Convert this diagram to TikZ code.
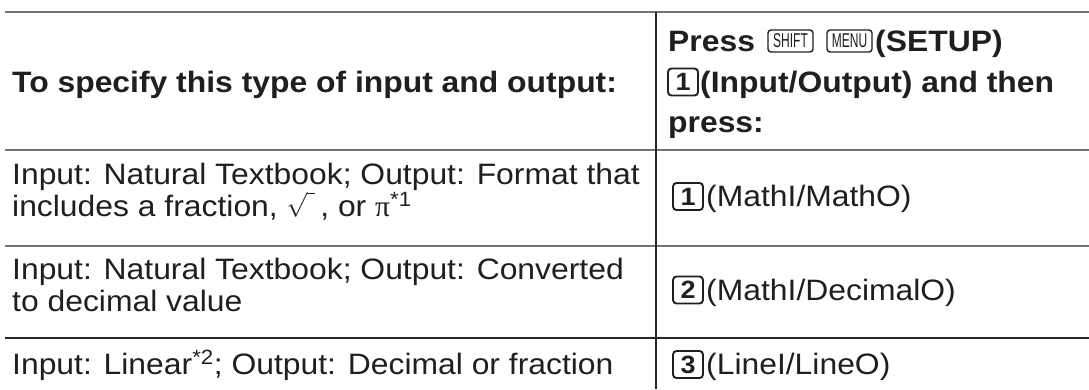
\documentclass[tikz,border=0pt]{standalone}
\usepackage{fontspec}
\setmainfont{Liberation Sans}[FakeStretch=1.08]
\newfontfamily\keyfont[FakeStretch=0.6]{Liberation Sans}
\newfontfamily\greekfont{Liberation Serif}
\usetikzlibrary{positioning}

\begin{document}
\begin{tikzpicture}[x=1pt, y=-1pt,
body/.style={anchor=base west, inner sep=0pt, text=black!88, font=\fontsize{29.5}{34}\selectfont},
head/.style={body, font=\fontsize{29.5}{34}\selectfont\bfseries},
numkey/.style={draw=black!88, rounded corners=3.5pt, line width=1.9pt, minimum width=30pt, minimum height=27pt, inner sep=0pt, text=black!88, font=\fontsize{25}{25}\selectfont\bfseries},
fnkey/.style={draw=black!88, rounded corners=3pt, line width=1.4pt, minimum width=45pt, minimum height=22pt, inner sep=0pt, text=black!88, font=\keyfont\fontsize{20}{20}\selectfont},
rule/.style={line width=1.6pt, black!55},
darkrule/.style={line width=1.4pt, black!85}
]
\useasboundingbox (0,0) rectangle (1089,389);

% Rules
\draw[rule] (5,12) -- (1089,12);
\draw[rule] (5,150) -- (1089,150);
\draw[rule] (5,246) -- (1089,246);
\draw[darkrule] (5,338) -- (1089,338);
\draw[darkrule] (656,12) -- (656,389);

% Header
\node[head] (hleft) at (12,92) {To specify this type of input and output:};
\node[head] (press) at (668,51) {Press};
\node[fnkey] (shift) at (790.5,41) {SHIFT};
\node[fnkey] (menu) at (849.5,41) {MENU};
\node[head] (setup) at (875,51) {(SETUP)};
\node[numkey] (hkone) at (683,82) {1};
\node[head] (inout) at (700,92) {(Input/Output) and then};
\node[head] (hpress) at (668,132) {press:};

% Row 1
\node[body] (rowAa) at (12,184) {Input: Natural Textbook; Output: Format that};
\node[body] (rowAb) at (12,216) {includes a fraction, $\sqrt{\vrule height 20pt depth 0pt width 0pt\hspace{8pt}}$\,, or {\greekfont π}\textsuperscript{*1}};
\node[numkey] (kone) at (688,196.5) {1};
\node[body] (outA) at (706,206.5) {(MathI/MathO)};

% Row 2
\node[body] (rowBa) at (12,279) {Input: Natural Textbook; Output: Converted};
\node[body] (rowBb) at (12,311) {to decimal value};
\node[numkey] (ktwo) at (688,290) {2};
\node[body] (outB) at (706,300) {(MathI/DecimalO)};

% Row 3
\node[body] (rowC) at (12,374) {Input: Linear\textsuperscript{*2}; Output: Decimal or fraction};
\node[numkey] (kthree) at (688,364.5) {3};
\node[body] (outC) at (706,374.5) {(LineI/LineO)};

\end{tikzpicture}
\end{document}
